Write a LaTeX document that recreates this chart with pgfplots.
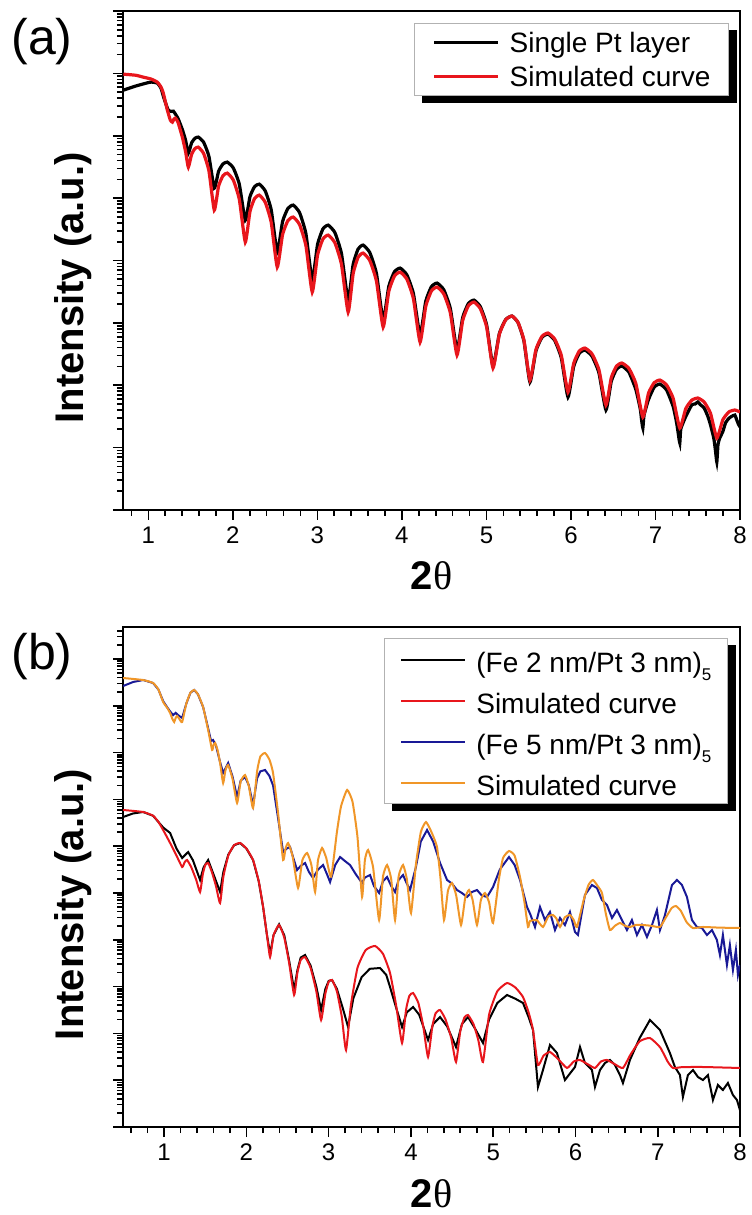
\documentclass[border=0pt]{standalone}
\usepackage{fontspec}
\setmainfont{Liberation Sans}
\newfontfamily\greekserif{Liberation Serif}
\usepackage{pgfplots}
\pgfplotsset{compat=1.18}
\usetikzlibrary{backgrounds}
\definecolor{cred}{RGB}{232,22,28}
\definecolor{cblue}{RGB}{25,25,150}
\definecolor{corange}{RGB}{240,150,40}
\pgfplotsset{
  xrdaxis/.style={
    scale only axis, width=308.5pt,
    xmax=8,
    axis line style={line width=1pt},
    tick align=outside, tick pos=left,
    major tick length=5pt, minor tick length=3pt,
    tick style={black, line width=0.8pt},
    xtick={1,2,3,4,5,6,7,8},
    minor xtick={0.6,0.8,1.2,1.4,1.6,1.8,2.2,2.4,2.6,2.8,3.2,3.4,3.6,3.8,4.2,4.4,4.6,4.8,5.2,5.4,5.6,5.8,6.2,6.4,6.6,6.8,7.2,7.4,7.6,7.8},
    yticklabels={},
    /pgf/number format/assume math mode=true,
    xticklabel style={font=\fontsize{12}{14}\selectfont},
    every axis x label/.style={at={(axis description cs:0.5,-0.16)}, anchor=base, font=\fontsize{20}{24}\selectfont\bfseries},
    every axis y label/.style={at={(axis description cs:-0.0648,0.445)}, rotate=90, anchor=base, font=\fontsize{20}{24}\selectfont\bfseries},
    xlabel={2{\greekserif\mdseries θ}},
    ylabel={Intensity (a.u.)},
    legend cell align=left,
    legend image code/.code={\draw[##1] (0pt,0pt) -- (32pt,0pt);},
  }
}
\begin{document}
\begin{tikzpicture}
\useasboundingbox (0,0) rectangle (375.5pt,607.5pt);
% ---------------- panel (a)
\begin{axis}[xrdaxis, at={(61.5pt,352.5pt)}, anchor=south west, height=249.5pt,
  xmin=0.7, ymin=0, ymax=8,
  ytick={0,1,2,3,4,5,6,7,8},
  minor ytick={0.301,0.477,0.602,0.699,0.778,0.845,0.903,0.954,1.301,1.477,1.602,1.699,1.778,1.845,1.903,1.954,2.301,2.477,2.602,2.699,2.778,2.845,2.903,2.954,3.301,3.477,3.602,3.699,3.778,3.845,3.903,3.954,4.301,4.477,4.602,4.699,4.778,4.845,4.903,4.954,5.301,5.477,5.602,5.699,5.778,5.845,5.903,5.954,6.301,6.477,6.602,6.699,6.778,6.845,6.903,6.954,7.301,7.477,7.602,7.699,7.778,7.845,7.903,7.954},
  legend style={name=legA, at={(1,1)}, anchor=north east, xshift=-5.5pt, yshift=-6pt,
    draw=gray!60, line width=0.6pt, fill=white, font=\fontsize{14}{17}\selectfont,
    inner xsep=9pt, inner ysep=2pt, row sep=2pt,
    nodes={inner sep=0pt, text height=12.5pt, text depth=2.5pt},
    /tikz/every odd column/.append style={column sep=5pt}},
]
\addplot[black, line width=1.6pt, smooth, tension=0.3] coordinates {
(0.705,6.731) (0.846,6.795) (1.024,6.859) (1.106,6.843) (1.15,6.76) (1.177,6.635) (1.21,6.50) (1.236,6.410) (1.270,6.39) (1.296,6.394) (1.35,6.28) (1.402,6.10) (1.44,5.93) (1.473,5.721) (1.512,5.888) (1.552,5.960) (1.591,5.978) (1.654,5.896) (1.717,5.667) (1.780,5.160) (1.831,5.431) (1.883,5.548) (1.934,5.577) (2.005,5.484) (2.076,5.224) (2.147,4.647) (2.202,5.022) (2.257,5.184) (2.312,5.224) (2.383,5.115) (2.454,4.810) (2.525,4.135) (2.588,4.624) (2.651,4.835) (2.714,4.888) (2.789,4.768) (2.864,4.431) (2.939,3.686) (3.002,4.259) (3.065,4.505) (3.128,4.567) (3.207,4.447) (3.285,4.110) (3.364,3.365) (3.423,3.938) (3.482,4.185) (3.541,4.247) (3.620,4.127) (3.699,3.790) (3.778,3.045) (3.845,3.586) (3.912,3.820) (3.979,3.878) (4.058,3.771) (4.136,3.470) (4.215,2.804) (4.282,3.346) (4.349,3.580) (4.416,3.638) (4.495,3.531) (4.573,3.230) (4.652,2.564) (4.719,3.085) (4.786,3.309) (4.853,3.365) (4.928,3.259) (5.003,2.963) (5.078,2.308) (5.153,2.829) (5.228,3.053) (5.303,3.109) (5.374,3.003) (5.444,2.707) (5.515,2.051) (5.586,2.551) (5.657,2.767) (5.728,2.821) (5.807,2.720) (5.886,2.437) (5.965,1.811) (6.032,2.300) (6.098,2.511) (6.165,2.564) (6.248,2.468) (6.331,2.199) (6.414,1.603) (6.477,2.061) (6.540,2.259) (6.603,2.308) (6.686,2.209) (6.768,1.930) (6.82,1.62) (6.835,1.45) (6.851,1.314) (6.865,1.52) (6.918,1.772) (6.985,1.970) (7.052,2.019) (7.131,1.925) (7.209,1.660) (7.25,1.40) (7.27,1.22) (7.288,1.074) (7.30,1.30) (7.359,1.501) (7.430,1.685) (7.47,1.70) (7.501,1.731) (7.53,1.69) (7.576,1.635) (7.62,1.50) (7.651,1.365) (7.69,1.15) (7.71,0.95) (7.726,0.769) (7.74,1.05) (7.76,1.15) (7.797,1.258) (7.83,1.40) (7.868,1.469) (7.90,1.50) (7.939,1.522) (7.96,1.45) (7.98,1.38) (8.0,1.330)};
\addlegendentry{Single Pt layer}
\addplot[cred, line width=1.6pt, smooth, tension=0.3] coordinates {
(0.705,6.987) (0.85,6.97) (0.941,6.939) (1.03,6.91) (1.106,6.859) (1.15,6.78) (1.177,6.683) (1.20,6.55) (1.225,6.410) (1.260,6.250) (1.284,6.218) (1.300,6.26) (1.319,6.282) (1.35,6.22) (1.402,5.978) (1.44,5.75) (1.473,5.497) (1.512,5.705) (1.552,5.795) (1.591,5.817) (1.654,5.716) (1.717,5.434) (1.780,4.808) (1.831,5.193) (1.883,5.359) (1.934,5.401) (2.005,5.290) (2.076,4.981) (2.147,4.295) (2.202,4.784) (2.257,4.995) (2.312,5.048) (2.383,4.933) (2.454,4.609) (2.525,3.894) (2.588,4.415) (2.651,4.640) (2.714,4.696) (2.789,4.576) (2.864,4.239) (2.939,3.494) (3.002,4.087) (3.065,4.343) (3.128,4.407) (3.207,4.284) (3.285,3.938) (3.364,3.173) (3.423,3.788) (3.482,4.053) (3.541,4.119) (3.620,4.000) (3.699,3.668) (3.778,2.933) (3.845,3.506) (3.912,3.752) (3.979,3.814) (4.058,3.702) (4.136,3.388) (4.215,2.692) (4.282,3.265) (4.349,3.512) (4.416,3.574) (4.495,3.465) (4.573,3.160) (4.652,2.484) (4.719,3.036) (4.786,3.274) (4.853,3.333) (4.928,3.227) (5.003,2.931) (5.078,2.276) (5.153,2.817) (5.228,3.051) (5.303,3.109) (5.374,3.006) (5.444,2.719) (5.515,2.083) (5.586,2.573) (5.657,2.784) (5.728,2.837) (5.807,2.742) (5.886,2.478) (5.965,1.891) (6.032,2.349) (6.098,2.547) (6.165,2.596) (6.248,2.505) (6.331,2.249) (6.414,1.683) (6.477,2.120) (6.540,2.309) (6.603,2.356) (6.686,2.269) (6.768,2.027) (6.851,1.490) (6.918,1.875) (6.985,2.041) (7.052,2.083) (7.131,2.006) (7.209,1.791) (7.288,1.314) (7.359,1.627) (7.430,1.761) (7.501,1.795) (7.576,1.731) (7.651,1.551) (7.726,1.154) (7.797,1.446) (7.868,1.572) (7.939,1.603) (8.0,1.571)};
\addlegendentry{Simulated curve}
\end{axis}
\begin{scope}[on background layer]
\fill[black] ([xshift=4pt,yshift=-3.5pt]legA.south west) rectangle ([xshift=4pt,yshift=-3.5pt]legA.north east);
\end{scope}
\node[anchor=base west, inner sep=0pt, font=\fontsize{25}{30}\selectfont] at (5.5pt,580pt) {(a)};
% ---------------- panel (b)
\begin{axis}[xrdaxis, at={(61.5pt,44pt)}, anchor=south west, height=250pt,
  xmin=0.5, ymin=0, ymax=10.684,
  ytick={0,1,2,3,4,5,6,7,8,9,10},
  minor ytick={0.301,0.477,0.602,0.699,0.778,0.845,0.903,0.954,1.301,1.477,1.602,1.699,1.778,1.845,1.903,1.954,2.301,2.477,2.602,2.699,2.778,2.845,2.903,2.954,3.301,3.477,3.602,3.699,3.778,3.845,3.903,3.954,4.301,4.477,4.602,4.699,4.778,4.845,4.903,4.954,5.301,5.477,5.602,5.699,5.778,5.845,5.903,5.954,6.301,6.477,6.602,6.699,6.778,6.845,6.903,6.954,7.301,7.477,7.602,7.699,7.778,7.845,7.903,7.954,8.301,8.477,8.602,8.699,8.778,8.845,8.903,8.954,9.301,9.477,9.602,9.699,9.778,9.845,9.903,9.954,10.301,10.477,10.602},
  legend style={name=legB, at={(1,1)}, anchor=north east, xshift=-6pt, yshift=-5.5pt,
    draw=gray!60, line width=0.6pt, fill=white, font=\fontsize{14}{17}\selectfont,
    inner xsep=8pt, inner ysep=1.5pt, row sep=2.5pt,
    nodes={inner sep=0pt, text height=15.5pt, text depth=2.5pt},
    /tikz/every odd column/.append style={column sep=5pt}},
]
\addplot[black, line width=1pt] coordinates {
(0.502,6.624) (0.623,6.70) (0.745,6.731) (0.866,6.65) (0.988,6.40) (1.073,6.282) (1.15,5.95) (1.219,5.748) (1.292,5.876) (1.35,5.70) (1.437,5.278) (1.48,5.55) (1.535,5.705) (1.60,5.40) (1.680,5.021) (1.72,5.45) (1.78,5.82) (1.85,6.02) (1.923,6.068) (2.00,5.95) (2.081,5.705) (2.15,5.25) (2.203,4.701) (2.25,4.10) (2.288,3.70) (2.33,4.10) (2.397,4.33) (2.46,4.10) (2.52,3.55) (2.580,2.927) (2.62,3.35) (2.66,3.62) (2.713,3.675) (2.78,3.45) (2.85,3.00) (2.908,2.500) (2.96,2.95) (3.00,3.12) (3.041,3.141) (3.10,2.95) (3.17,2.55) (3.236,2.137) (3.30,2.75) (3.40,3.20) (3.50,3.38) (3.625,3.397) (3.70,3.25) (3.746,2.991) (3.82,2.55) (3.892,2.137) (3.95,2.45) (4.026,2.564) (4.10,2.40) (4.208,1.859) (4.27,2.20) (4.354,2.350) (4.44,2.15) (4.548,1.709) (4.62,2.20) (4.694,2.350) (4.78,2.10) (4.876,1.795) (4.95,2.30) (5.05,2.65) (5.168,2.821) (5.27,2.74) (5.362,2.650) (5.43,2.35) (5.484,2.073) (5.544,0.855) (5.605,1.218) (5.690,1.752) (5.775,1.581) (5.872,1.004) (5.994,1.282) (6.055,1.709) (6.115,1.368) (6.200,1.218) (6.237,0.855) (6.298,1.218) (6.359,1.368) (6.419,1.432) (6.480,1.325) (6.541,1.111) (6.577,0.940) (6.662,1.432) (6.78,1.90) (6.905,2.286) (7.027,2.073) (7.148,1.581) (7.209,1.282) (7.270,1.111) (7.306,0.641) (7.367,1.111) (7.428,1.218) (7.489,1.068) (7.549,1.004) (7.610,1.111) (7.671,0.577) (7.731,0.897) (7.792,0.791) (7.853,0.940) (7.914,0.684) (7.963,0.577) (7.999,0.363)};
\addlegendentry{(Fe 2 nm/Pt 3 nm)\raisebox{-4pt}{\fontsize{8.5}{9}\selectfont 5}}
\addplot[cred, line width=1pt, smooth, tension=0.3] coordinates {
(0.502,6.774) (0.745,6.731) (0.866,6.65) (0.93,6.52) (0.988,6.346) (1.073,6.068) (1.15,5.80) (1.219,5.556) (1.25,5.66) (1.279,5.705) (1.33,5.55) (1.39,5.28) (1.437,5.021) (1.47,5.40) (1.50,5.60) (1.535,5.641) (1.58,5.45) (1.63,5.15) (1.680,4.786) (1.72,5.35) (1.78,5.80) (1.85,6.02) (1.923,6.068) (2.00,5.95) (2.081,5.705) (2.15,5.25) (2.203,4.701) (2.25,4.10) (2.288,3.632) (2.33,4.10) (2.397,4.316) (2.46,4.05) (2.52,3.50) (2.580,2.821) (2.62,3.30) (2.66,3.57) (2.713,3.632) (2.78,3.40) (2.85,2.90) (2.908,2.286) (2.96,2.85) (3.00,3.10) (3.041,3.141) (3.10,2.90) (3.16,2.35) (3.211,1.645) (3.27,2.60) (3.35,3.40) (3.45,3.78) (3.564,3.868) (3.66,3.70) (3.746,3.291) (3.82,2.60) (3.892,1.795) (3.94,2.50) (3.98,2.80) (4.026,2.863) (4.09,2.65) (4.15,2.15) (4.208,1.496) (4.26,2.15) (4.30,2.43) (4.354,2.500) (4.42,2.30) (4.49,1.90) (4.548,1.389) (4.60,2.05) (4.65,2.34) (4.694,2.393) (4.76,2.20) (4.82,1.85) (4.876,1.389) (4.95,2.40) (5.05,2.90) (5.168,3.077) (5.27,2.98) (5.362,2.778) (5.43,2.45) (5.484,2.073) (5.544,1.325) (5.61,1.52) (5.690,1.603) (5.79,1.45) (5.897,1.261) (5.98,1.40) (6.055,1.432) (6.15,1.34) (6.237,1.261) (6.31,1.40) (6.383,1.432) (6.48,1.34) (6.577,1.261) (6.67,1.55) (6.78,1.83) (6.905,1.902) (7.03,1.70) (7.12,1.40) (7.185,1.261) (7.30,1.28) (7.549,1.282) (7.999,1.261)};
\addlegendentry{Simulated curve}
\addplot[cblue, line width=1pt] coordinates {
(0.502,9.423) (0.623,9.509) (0.745,9.551) (0.866,9.487) (0.93,9.35) (0.988,9.10) (1.04,8.96) (1.073,8.88) (1.109,8.80) (1.14,8.85) (1.17,8.80) (1.219,8.74) (1.27,9.05) (1.32,9.28) (1.365,9.338) (1.41,9.25) (1.474,8.974) (1.535,8.52) (1.57,8.25) (1.595,8.269) (1.63,8.15) (1.680,7.80) (1.717,7.564) (1.778,7.778) (1.83,7.50) (1.887,7.051) (1.93,7.40) (1.984,7.479) (2.03,7.30) (2.081,6.880) (2.13,7.45) (2.17,7.60) (2.227,7.628) (2.28,7.50) (2.324,7.30) (2.385,6.60) (2.446,5.876) (2.49,5.95) (2.531,5.983) (2.57,5.75) (2.616,5.491) (2.66,5.58) (2.713,5.641) (2.76,5.45) (2.810,5.321) (2.87,5.50) (2.932,5.598) (2.98,5.40) (3.017,5.235) (3.08,5.60) (3.139,5.769) (3.20,5.68) (3.260,5.598) (3.33,5.40) (3.406,5.214) (3.44,5.33) (3.503,5.385) (3.55,5.15) (3.613,5.000) (3.66,5.25) (3.710,5.342) (3.76,5.15) (3.807,5.021) (3.85,5.28) (3.904,5.385) (3.95,5.20) (3.989,5.064) (4.06,5.55) (4.12,6.10) (4.196,6.346) (4.27,6.10) (4.354,5.641) (4.439,5.278) (4.50,5.20) (4.560,5.064) (4.62,5.00) (4.682,4.915) (4.74,5.02) (4.803,5.064) (4.86,4.95) (4.925,4.915) (4.998,5.128) (5.08,5.50) (5.192,5.769) (5.26,5.60) (5.326,5.278) (5.411,4.701) (5.45,4.55) (5.508,4.274) (5.569,4.701) (5.629,4.423) (5.690,4.594) (5.751,4.209) (5.812,4.466) (5.872,4.316) (5.933,4.594) (5.994,4.167) (6.030,4.103) (6.115,4.957) (6.200,5.171) (6.261,5.107) (6.322,4.850) (6.383,4.744) (6.444,4.466) (6.504,4.637) (6.565,4.423) (6.626,4.209) (6.686,4.423) (6.747,4.103) (6.808,4.316) (6.869,4.060) (6.930,4.316) (6.990,4.637) (7.027,4.209) (7.088,4.530) (7.173,5.171) (7.233,5.278) (7.294,5.171) (7.355,4.915) (7.416,4.423) (7.476,4.274) (7.537,4.252) (7.598,4.103) (7.659,4.209) (7.719,3.996) (7.756,3.675) (7.792,4.103) (7.841,3.462) (7.877,3.889) (7.914,3.355) (7.950,3.782) (7.975,3.248) (7.999,3.462)};
\addlegendentry{(Fe 5 nm/Pt 3 nm)\raisebox{-4pt}{\fontsize{8.5}{9}\selectfont 5}}
\addplot[corange, line width=1pt, smooth, tension=0.3] coordinates {
(0.502,9.594) (0.745,9.551) (0.866,9.487) (0.93,9.35) (0.988,9.081) (1.04,8.95) (1.073,8.846) (1.10,8.72) (1.122,8.654) (1.140,8.74) (1.158,8.782) (1.185,8.72) (1.219,8.654) (1.27,9.05) (1.32,9.28) (1.365,9.338) (1.41,9.25) (1.474,8.974) (1.535,8.483) (1.583,8.056) (1.600,8.16) (1.620,8.205) (1.650,8.05) (1.680,7.778) (1.717,7.350) (1.745,7.62) (1.778,7.735) (1.83,7.45) (1.887,6.923) (1.93,7.38) (1.984,7.521) (2.03,7.28) (2.081,6.816) (2.13,7.60) (2.17,7.92) (2.227,7.991) (2.28,7.85) (2.324,7.564) (2.385,6.709) (2.446,5.705) (2.476,5.95) (2.507,6.068) (2.56,5.80) (2.628,5.107) (2.68,5.70) (2.738,5.855) (2.79,5.60) (2.835,5.021) (2.87,5.70) (2.920,5.962) (2.97,5.75) (3.03,5.35) (3.10,6.30) (3.15,6.85) (3.224,7.201) (3.29,6.95) (3.35,6.20) (3.406,4.915) (3.44,5.70) (3.479,5.919) (3.54,5.55) (3.613,4.423) (3.66,5.35) (3.710,5.598) (3.76,5.30) (3.807,4.423) (3.85,5.35) (3.904,5.598) (3.95,5.30) (4.001,4.573) (4.06,5.60) (4.12,6.30) (4.183,6.517) (4.25,6.30) (4.317,5.983) (4.36,5.30) (4.402,4.423) (4.45,5.05) (4.499,5.214) (4.55,4.95) (4.609,4.316) (4.66,4.90) (4.706,5.064) (4.75,4.85) (4.803,4.316) (4.85,4.85) (4.900,5.000) (4.95,4.80) (4.998,4.359) (5.07,5.30) (5.12,5.75) (5.192,5.897) (5.26,5.80) (5.326,5.342) (5.38,4.80) (5.423,4.274) (5.447,4.40) (5.53,4.42) (5.605,4.274) (5.67,4.50) (5.727,4.530) (5.77,4.45) (5.812,4.274) (5.87,4.48) (5.933,4.530) (5.98,4.42) (6.018,4.274) (6.10,4.85) (6.16,5.18) (6.213,5.278) (6.27,5.15) (6.322,5.000) (6.37,4.55) (6.419,4.209) (6.48,4.30) (6.541,4.359) (6.60,4.30) (6.662,4.274) (6.74,4.32) (6.820,4.316) (6.92,4.30) (7.027,4.274) (7.10,4.48) (7.17,4.68) (7.221,4.722) (7.28,4.62) (7.35,4.38) (7.428,4.252) (7.549,4.274) (7.75,4.26) (8.0,4.252)};
\addlegendentry{Simulated curve}
\end{axis}
\begin{scope}[on background layer]
\fill[black] ([xshift=4pt,yshift=-3.5pt]legB.south west) rectangle ([xshift=4pt,yshift=-3.5pt]legB.north east);
\end{scope}
\node[anchor=base west, inner sep=0pt, font=\fontsize{25}{30}\selectfont] at (5.5pt,272.5pt) {(b)};
\end{tikzpicture}
\end{document}
